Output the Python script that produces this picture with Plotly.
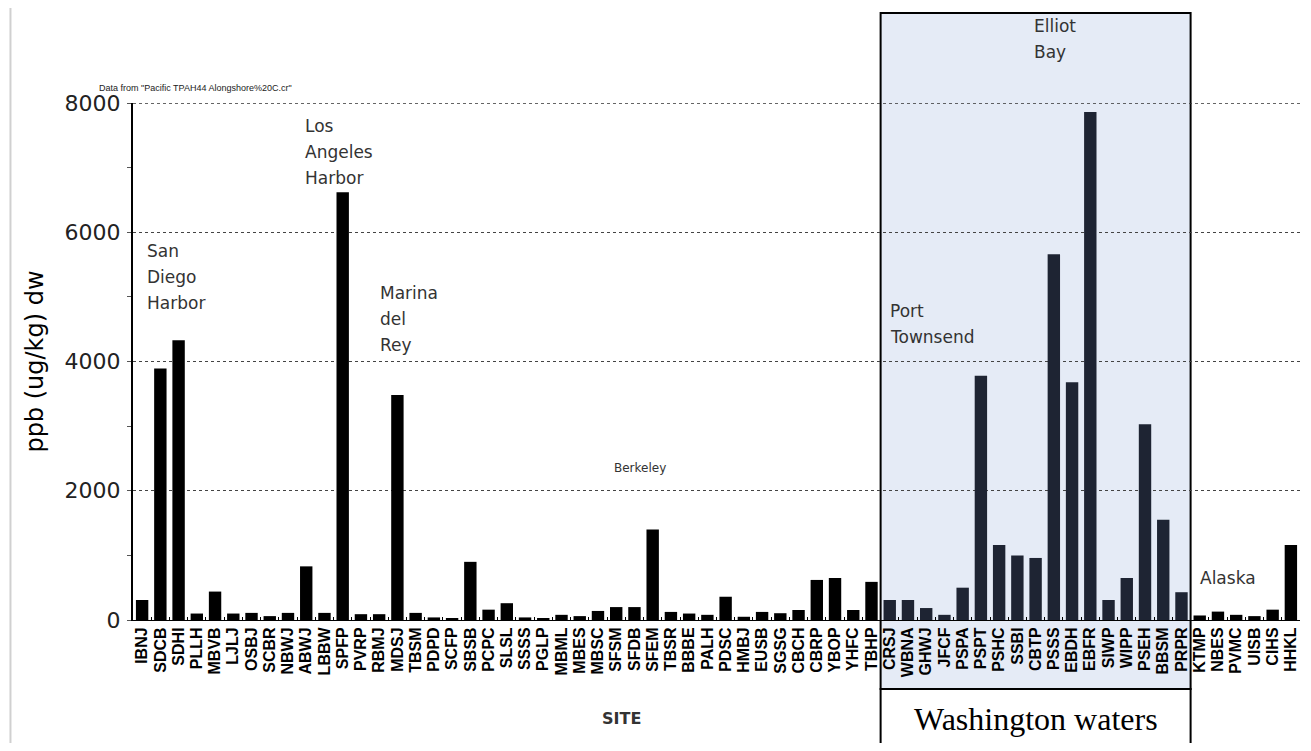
import plotly.graph_objects as go

# -------------------------------
# data
# -------------------------------
sites = [
    "IBNJ", "SDCB", "SDHI", "PLLH", "MBVB", "LJLJ", "OSBJ", "SCBR", "NBWJ", "ABWJ",
    "LBBW", "SPFP", "PVRP", "RBMJ", "MDSJ", "TBSM", "PDPD", "SCFP", "SBSB", "PCPC",
    "SLSL", "SSSS", "PGLP", "MBML", "MBES", "MBSC", "SFSM", "SFDB", "SFEM", "TBSR",
    "BBBE", "PALH", "PDSC", "HMBJ", "EUSB", "SGSG", "CBCH", "CBRP", "YBOP", "YHFC",
    "TBHP", "CRSJ", "WBNA", "GHWJ", "JFCF", "PSPA", "PSPT", "PSHC", "SSBI", "CBTP",
    "PSSS", "EBDH", "EBFR", "SIWP", "WIPP", "PSEH", "BBSM", "PRPR", "KTMP", "NBES",
    "PVMC", "UISB", "CIHS", "HHKL",
]
tpah = [
    310, 3890, 4330, 100, 440, 100, 110, 60, 110, 830,
    110, 6620, 90, 90, 3480, 110, 40, 30, 900, 160,
    260, 40, 30, 80, 60, 140, 200, 200, 1400, 125,
    100, 80, 360, 50, 125, 105, 155, 620, 650, 155,
    590, 310, 310, 185, 80, 500, 3780, 1160, 1000, 960,
    5660, 3680, 7860, 310, 650, 3030, 1550, 430, 70, 130,
    80, 60, 160, 1160,
]

# Washington waters block (first and last site inside it)
wa_first, wa_last = "CRSJ", "PRPR"

# region labels: (lines, x position in site units, y of first line in ppb, font size)
region_labels = [
    (["San", "Diego", "Harbor"], 0.16, 5710, 17),
    (["Los", "Angeles", "Harbor"], 8.83, 7640, 17),
    (["Marina", "del", "Rey"], 12.94, 5060, 17),
    (["Port", "Townsend"], 40.9, 4780, 17),
    (["Elliot", "Bay"], 48.8, 9190, 17),
    (["Alaska"], 57.9, 650, 17),
]

y_ticks = [0, 2000, 4000, 6000, 8000]
y_max = 8000

# -------------------------------
# figure
# -------------------------------
n = len(sites)
i0, i1 = sites.index(wa_first), sites.index(wa_last)
bar_colors = ["#1e2433" if i0 <= i <= i1 else "black" for i in range(n)]

fig = go.Figure(
    go.Bar(x=sites, y=tpah, marker=dict(color=bar_colors, line_width=0), width=0.68)
)

# paper coordinates of the Washington block, from category index
px0 = i0 / n
px1 = (i1 + 1) / n
plot_h = 517
def py(pix_below_axis):
    return -pix_below_axis / plot_h

# shaded part (plot + site labels), then the white caption box under it
fig.add_shape(type="rect", xref="paper", yref="paper", x0=px0, x1=px1,
              y0=py(69), y1=1.174, fillcolor="#e5ebf6",
              line=dict(color="black", width=2), layer="below")
fig.add_shape(type="rect", xref="paper", yref="paper", x0=px0, x1=px1,
              y0=py(126), y1=py(69), fillcolor="white",
              line=dict(color="black", width=2), layer="below")
fig.add_annotation(xref="paper", yref="paper", x=(px0 + px1) / 2, y=py(99),
                   xanchor="center", yanchor="middle",
                   text="Washington waters", showarrow=False,
                   font=dict(family="Liberation Serif", size=32, color="black"))

# top border of the plot (dotted, like the grid)
fig.add_shape(type="line", xref="paper", yref="y", x0=0, x1=1, y0=y_max, y1=y_max,
              line=dict(color="#333333", width=1.5, dash="dot"))

# faint page border at the left
fig.add_shape(type="line", xref="paper", yref="paper", x0=-0.105, x1=-0.105,
              y0=-0.25, y1=1.2, line=dict(color="#d0d0d0", width=2))

for lines, xpos, ypos, fs in region_labels:
    for k, line in enumerate(lines):
        fig.add_annotation(x=xpos, y=ypos / y_max, yref="paper", text=line,
                           showarrow=False, xanchor="left", yanchor="middle",
                           yshift=-26 * k,
                           font=dict(family="DejaVu Sans", size=fs, color="#333333"))

fig.add_annotation(x=27.3, y=2350, text="Berkeley", showarrow=False,
                   font=dict(family="DejaVu Sans", size=12, color="#333333"))
fig.add_annotation(xref="paper", yref="paper", x=-0.031, y=1.029,
                   xanchor="left", yanchor="middle",
                   text='Data from "Pacific TPAH44 Alongshore%20C.cr"', showarrow=False,
                   font=dict(family="Liberation Sans", size=9, color="#222222"))
fig.add_annotation(xref="paper", yref="paper", x=0.419, y=py(98),
                   xanchor="center", yanchor="middle", text="<b>SITE</b>",
                   showarrow=False, font=dict(family="DejaVu Sans", size=16, color="#333333"))

# the page body has an 8px margin, so the figure is sized to sit inside it
fig.update_layout(
    width=1295, height=735,
    margin=dict(l=125, r=3, t=95, b=123),
    paper_bgcolor="white",
    plot_bgcolor="rgba(0,0,0,0)",
    showlegend=False,
)
fig.update_xaxes(
    range=[-0.5, n - 0.5],
    automargin=False,
    tickmode="linear", dtick=1,
    tickangle=-90,
    tickfont=dict(family="Liberation Sans", size=16, color="black", weight="bold"),
    showline=True, linecolor="black", linewidth=1,
    ticks="inside", ticklen=3, tickcolor="black", tickson="boundaries",
    showgrid=False,
)
fig.update_yaxes(
    range=[0, y_max],
    automargin=False,
    tickvals=y_ticks,
    ticks="outside", ticklen=4, tickcolor="#555555",
    minor=dict(dtick=1000, ticks="outside", ticklen=4, tickcolor="#555555", showgrid=False),
    tickfont=dict(family="DejaVu Sans", size=22, color="#222222"),
    ticklabelstandoff=2,
    showline=True, linecolor="black", linewidth=2,
    showgrid=True, gridcolor="#444444", griddash="dot", gridwidth=1,
    zeroline=False,
    title=dict(text="ppb (ug/kg) dw", standoff=14,
               font=dict(family="DejaVu Sans", size=24, color="black")),
)

fig.write_html("out.html")
